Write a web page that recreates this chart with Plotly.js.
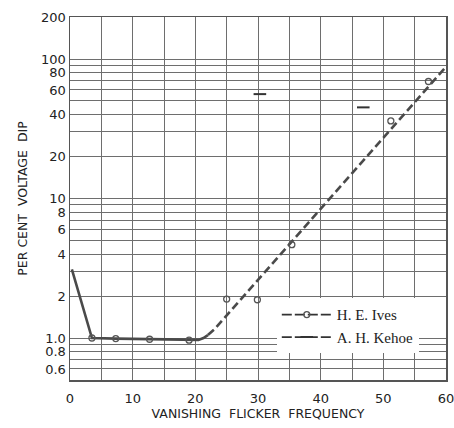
<!DOCTYPE html>
<html>
<head>
<meta charset="utf-8">
<script src="https://cdn.plot.ly/plotly-3.0.1.min.js"></script>
<style>
html,body{margin:0;padding:0;background:#fff;}
#chart{width:454px;height:428px;}
</style>
</head>
<body>
<div id="chart"></div>
<script>
// H. E. Ives observed points (open circles)
const ivesX = [3.5, 7.3, 12.7, 19.0, 25.0, 29.9, 35.4, 51.2, 57.2];
const ivesY = [1.0, 0.99, 0.98, 0.965, 1.9, 1.88, 4.67, 36, 69];
// A. H. Kehoe points (short marks)
const kehoeX = [30.3, 46.8];
const kehoeY = [56, 45];
// fitted curve, solid part
const curveSolidX = [0.3, 3.5, 7.3, 12.7, 19.0, 20.5, 21.3, 22.0];
const curveSolidY = [3.1, 1.0, 0.99, 0.98, 0.965, 0.97, 1.0, 1.05];
// fitted curve, dashed part
const curveDashX = [22.0, 23.0, 60];
const curveDashY = [1.05, 1.15, 88];
// axis ticks
const xTickVals = [0, 10, 20, 30, 40, 50, 60];
const yGridVals = [0.6,0.7,0.8,0.9,1,2,3,4,5,6,7,8,9,10,20,30,40,50,60,70,80,90,100,200];
const yLabelVals = [0.6,0.8,1,2,4,6,8,10,20,40,60,80,100,200];
const yLabelText = ['0.6','0.8','1.0','2','4','6','8','10','20','40','60','80','100','200'];

function withGaps(a){ const out=[]; a.forEach((v,i)=>{ if(i) out.push(null); out.push(v); }); return out; }

const ink = '#4a4a4a';
const grid = '#6e6e6e';

const traces = [
  {x: curveSolidX, y: curveSolidY, mode:'lines', line:{color:ink, width:2.6}, showlegend:false, hoverinfo:'skip'},
  {x: curveDashX, y: curveDashY, mode:'lines', line:{color:ink, width:2.6, dash:'8px,4px'}, showlegend:false, hoverinfo:'skip'},
  {x: withGaps(ivesX), y: withGaps(ivesY), mode:'lines+markers', name:'H. E. Ives',
   line:{color:'#333', width:1.6, dash:'10px,3px'}, connectgaps:false,
   marker:{symbol:'circle-open', size:6, color:'#555', line:{width:1.3}}},
  {x: withGaps(kehoeX), y: withGaps(kehoeY), mode:'lines+markers', name:'A. H. Kehoe',
   line:{color:'#333', width:1.6, dash:'10px,3px'}, connectgaps:false,
   marker:{symbol:'line-ew-open', size:9, color:'#333', line:{width:2}}}
];

const yGridText = yGridVals.map(v => { const i = yLabelVals.indexOf(v); return i >= 0 ? yLabelText[i] : ''; });

const layout = {
  width:454, height:428,
  margin:{l:70, r:8, t:17, b:48},
  paper_bgcolor:'#fff', plot_bgcolor:'#fff',
  font:{family:'DejaVu Sans, sans-serif', color:'#222'},
  showlegend:true,
  legend:{x:0.55, y:0.225, xanchor:'left', yanchor:'top', bgcolor:'#fff', borderwidth:0,
          itemwidth:50,
          font:{family:'Liberation Serif, serif', size:15, color:'#222'}, tracegroupgap:0},
  xaxis:{range:[0,60], tickvals:xTickVals, ticktext:xTickVals.map(String),
         showgrid:true, gridcolor:grid, gridwidth:1,
         minor:{dtick:5, tick0:0, showgrid:true, gridcolor:grid, gridwidth:1},
         zeroline:false, showline:true, linecolor:'#555', linewidth:1.5, mirror:true,
         ticks:'', ticklabelstandoff:6, ticklabeloverflow:'allow', tickfont:{size:13, color:'#222'},
         title:{text:'VANISHING  FLICKER  FREQUENCY', font:{size:12.5, color:'#222'}, standoff:4}},
  yaxis:{type:'log', range:[Math.log10(0.5), Math.log10(200)],
         tickvals:yGridVals, ticktext:yGridText,
         showgrid:true, gridcolor:grid, gridwidth:1,
         zeroline:false, showline:true, linecolor:'#555', linewidth:1.5, mirror:true,
         ticks:'', ticklabeloverflow:'allow', tickfont:{size:13, color:'#222'},
         title:{text:'PER CENT  VOLTAGE  DIP', font:{size:12.5, color:'#222'}, standoff:10}}
};

Plotly.newPlot('chart', traces, layout, {displayModeBar:false, staticPlot:true});
</script>
</body>
</html>
